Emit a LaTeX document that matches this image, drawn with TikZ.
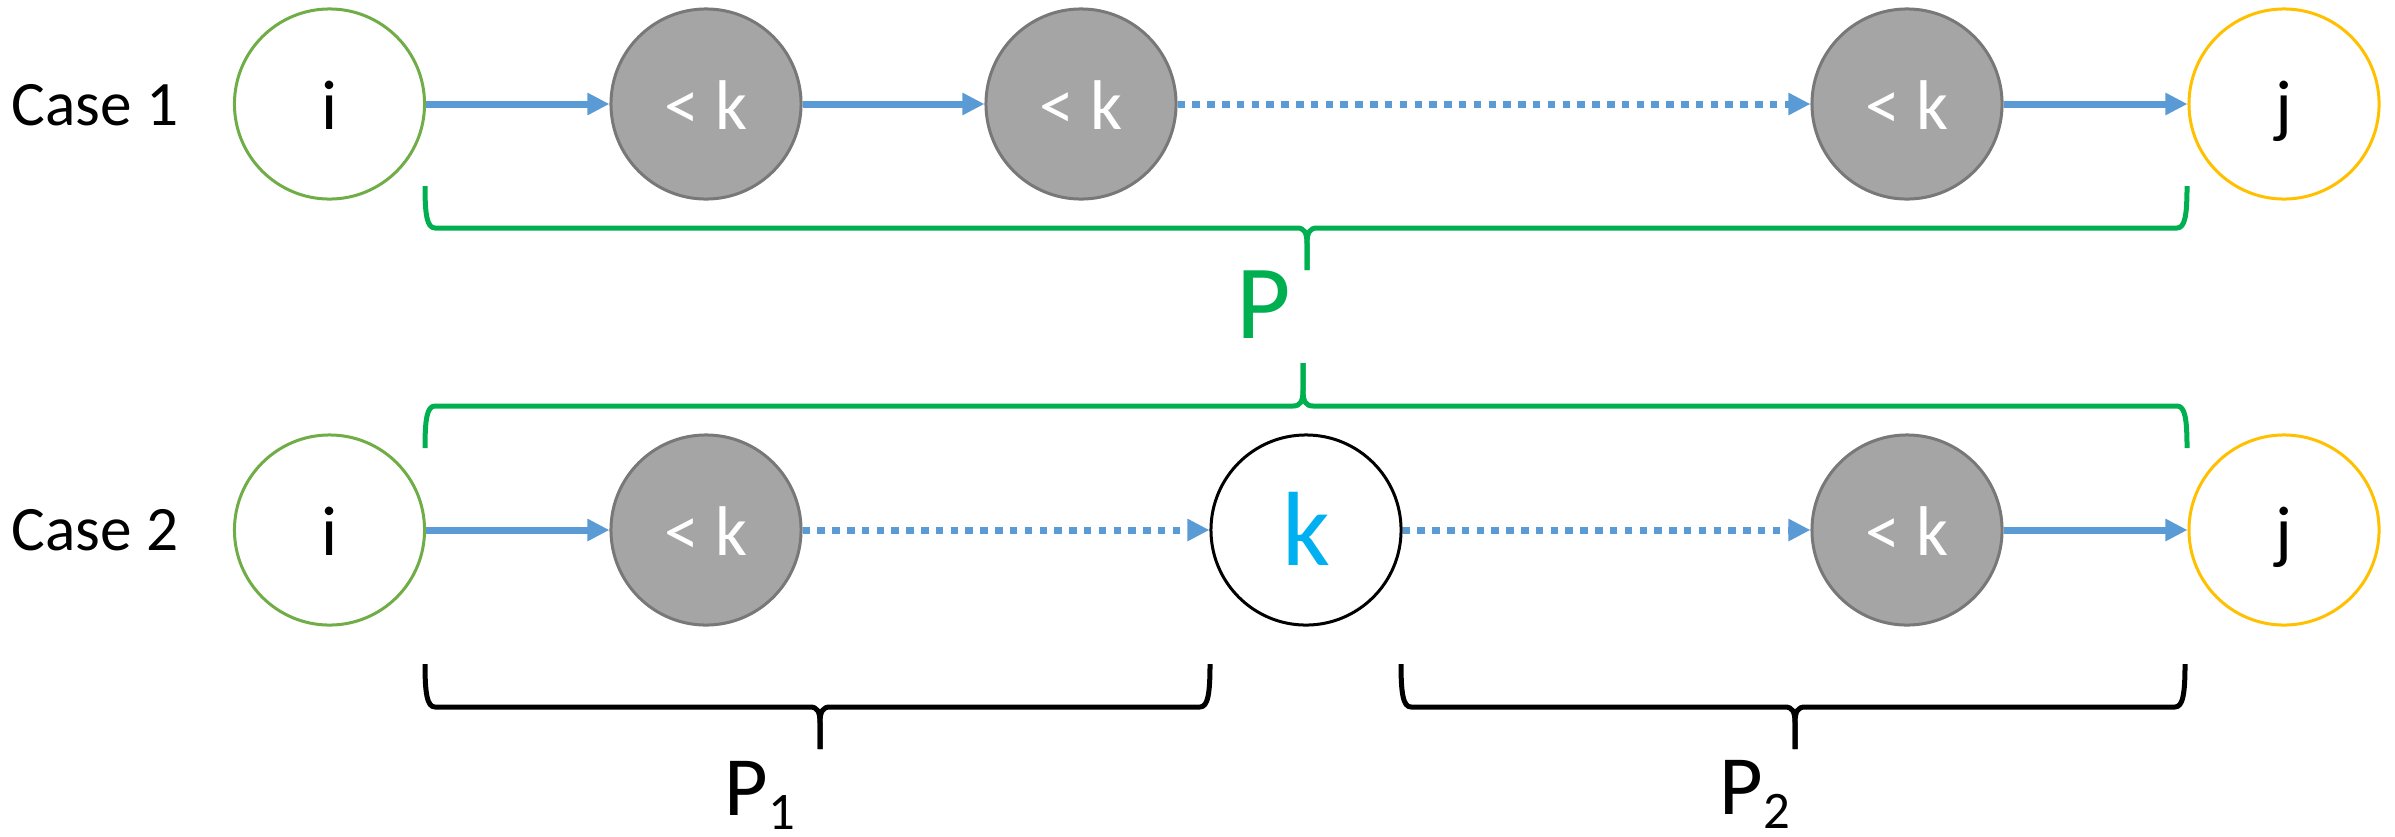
\documentclass[tikz,border=0pt]{standalone}
\usepackage{fontspec}
\setmainfont{Carlito}
\usetikzlibrary{arrows.meta}
\definecolor{cblue}{HTML}{5B9BD5}
\definecolor{cgreen}{HTML}{70AD47}
\definecolor{cyellow}{HTML}{FFC000}
\definecolor{cgray}{HTML}{A5A5A5}
\definecolor{cgrayline}{HTML}{787878}
\definecolor{bgreen}{HTML}{00B050}
\definecolor{kcyan}{HTML}{00B0F0}
\begin{document}
\begin{tikzpicture}[x=0.01cm,y=-0.01cm,
  vertex/.style={circle,minimum size=1.9cm,inner sep=0pt,line width=0.03cm,text height=0.5cm,text depth=0pt,font=\fontsize{20}{24}\selectfont},
  endi/.style={vertex,draw=cgreen,fill=white},
  endj/.style={vertex,draw=cyellow,fill=white},
  lessk/.style={vertex,draw=cgrayline,fill=cgray,text=white},
  knode/.style={vertex,draw=black,fill=white,text height=0.7cm,font=\fontsize{30}{36}\selectfont,text=kcyan},
  solidarrow/.style={draw=cblue,line width=0.07cm,-{Triangle[length=0.22cm,width=0.21cm]}},
  dotarrow/.style={solidarrow,dash pattern=on 0.075cm off 0.073cm},
  gbrace/.style={draw=bgreen,line width=0.05cm,line join=round},
  kbrace/.style={draw=black,line width=0.05cm,line join=round},
  caselabel/.style={anchor=base west,inner sep=0pt,font=\fontsize{18}{22}\selectfont},
  plabel/.style={anchor=base west,inner sep=0pt},
]
\useasboundingbox (0,0) rectangle (2395,836);

% labels
\node[caselabel] (case1) at (11,125) {Case 1};
\node[caselabel] (case2) at (11,550) {Case 2};

% row 1
\node[endi] (i1) at (329.5,104) {i};
\node[lessk] (a1) at (706,104) {< k};
\node[lessk] (b1) at (1081,104) {< k};
\node[lessk] (c1) at (1907,104) {< k};
\node[endj] (j1) at (2284,104) {j};

% row 2
\node[endi] (i2) at (329.5,530) {i};
\node[lessk] (a2) at (706,530) {< k};
\node[knode] (k2) at (1306,530) {k};
\node[lessk] (c2) at (1907,530) {< k};
\node[endj] (j2) at (2284,530) {j};

% arrows row 1
\draw[solidarrow] (i1) -- (a1);
\draw[solidarrow] (a1) -- (b1);
\draw[dotarrow] (b1) -- (c1);
\draw[solidarrow] (c1) -- (j1);

% arrows row 2
\draw[solidarrow] (i2) -- (a2);
\draw[dotarrow] (a2) -- (k2);
\draw[dotarrow] (k2) -- (c2);
\draw[solidarrow] (c2) -- (j2);

% green brace under case 1
\draw[gbrace] (425,186) .. controls (425,215) and (427,228) .. (435,228) -- (1297,228) .. controls (1304,228) and (1307,232) .. (1307,244) -- (1307,270);
\draw[gbrace] (2187,186) .. controls (2187,215) and (2185,228) .. (2177,228) -- (1317,228) .. controls (1310,228) and (1307,232) .. (1307,244) -- (1307,270);

% green brace above case 2
\draw[gbrace] (425,448) .. controls (425,419) and (427,406) .. (435,406) -- (1293,406) .. controls (1300,406) and (1303,402) .. (1303,390) -- (1303,363);
\draw[gbrace] (2187,448) .. controls (2187,419) and (2185,406) .. (2177,406) -- (1313,406) .. controls (1306,406) and (1303,402) .. (1303,390) -- (1303,363);

% black brace P1
\draw[kbrace] (425,664) .. controls (425,693) and (427,707) .. (435,707) -- (810,707) .. controls (817,707) and (820,711) .. (820,723) -- (820,749);
\draw[kbrace] (1210,664) .. controls (1210,693) and (1208,707) .. (1200,707) -- (830,707) .. controls (823,707) and (820,711) .. (820,723) -- (820,749);

% black brace P2
\draw[kbrace] (1401,664) .. controls (1401,693) and (1403,707) .. (1411,707) -- (1785,707) .. controls (1792,707) and (1795,711) .. (1795,723) -- (1795,749);
\draw[kbrace] (2185,664) .. controls (2185,693) and (2183,707) .. (2175,707) -- (1805,707) .. controls (1798,707) and (1795,711) .. (1795,723) -- (1795,749);

% brace labels
\node[plabel,text=bgreen,font=\fontsize{30}{36}\selectfont] (P) at (1236,338) {P};
\node[plabel,font=\fontsize{24}{29}\selectfont] (P1) at (724,815) {P\raisebox{-0.14cm}{\fontsize{15}{18}\selectfont 1}};
\node[plabel,font=\fontsize{24}{29}\selectfont] (P2) at (1719,814) {P\raisebox{-0.14cm}{\fontsize{15}{18}\selectfont 2}};
\end{tikzpicture}
\end{document}
